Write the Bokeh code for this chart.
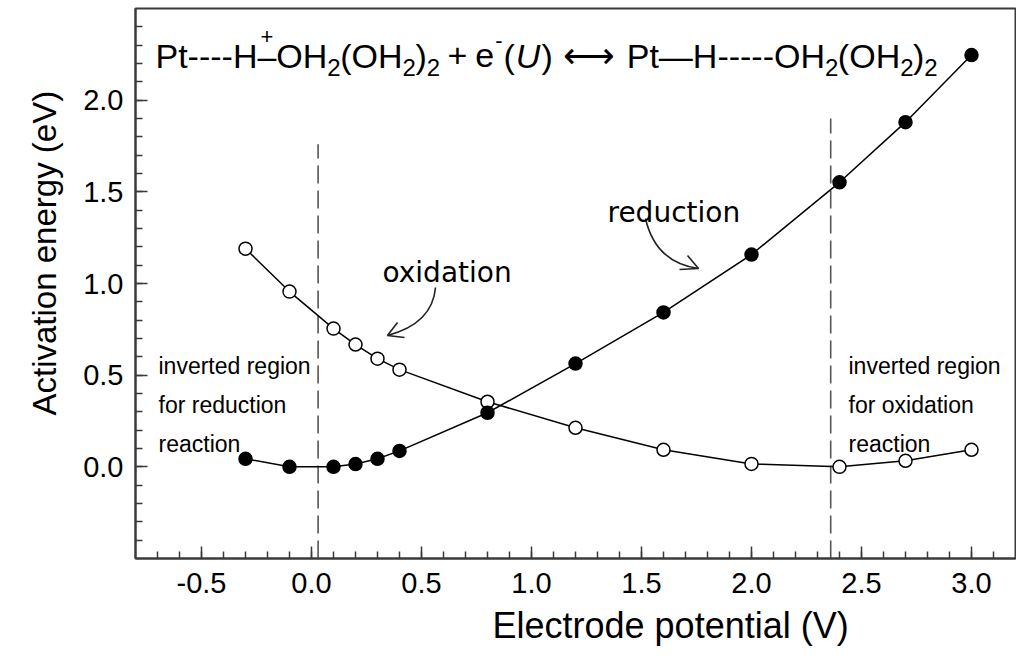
import numpy as np
from bokeh.plotting import figure
from bokeh.models import Range1d, FixedTicker, PrintfTickFormatter, Title
from bokeh.core.properties import value
from bokeh.embed import file_html
from bokeh.resources import INLINE

# ---------------- data ----------------
potential = [-0.3, -0.1, 0.1, 0.2, 0.3, 0.4, 0.8, 1.2, 1.6, 2.0, 2.4, 2.7, 3.0]
energy_reduction = [0.044, 0.0, 0.0, 0.015, 0.044, 0.087, 0.295, 0.563, 0.842, 1.158, 1.552, 1.88, 2.246]
energy_oxidation = [1.19, 0.956, 0.754, 0.667, 0.59, 0.53, 0.355, 0.213, 0.093, 0.016, 0.0, 0.033, 0.093]

inverted_bounds = [0.03, 2.36]          # dashed lines (V)
inverted_tops = [1.76, 1.90]            # top of dashed lines (eV)

x_major_ticks = [-0.5, 0.0, 0.5, 1.0, 1.5, 2.0, 2.5, 3.0]
y_major_ticks = [0.0, 0.5, 1.0, 1.5, 2.0]
x_minor_ticks = [round(v, 1) for v in np.arange(-0.7, 3.15, 0.1)]
y_minor_ticks = [round(v, 1) for v in np.arange(-0.4, 2.45, 0.1)]

x_label = "Electrode potential (V)"
y_label = "Activation energy (eV)"

# ---------------- figure ----------------
W, H = 1016, 659
BL, BR, BT, BB = 135, 1, 8, 101
XMIN, XMAX, YMIN, YMAX = -0.8, 3.2, -0.5, 2.5
SX = (W - BL - BR) / (XMAX - XMIN)
SY = (H - BT - BB) / (YMAX - YMIN)

p = figure(width=W, height=H, x_range=Range1d(XMIN, XMAX), y_range=Range1d(YMIN, YMAX),
           output_backend="svg", toolbar_location=None,
           min_border_left=BL, min_border_right=BR, min_border_top=BT, min_border_bottom=BB)
p.grid.visible = False
p.background_fill_color = "white"
p.border_fill_color = "white"
p.outline_line_color = "#3a3a3a"
p.outline_line_width = 2

AX = "#3a3a3a"
for ax, maj, mino in ((p.xaxis, x_major_ticks, x_minor_ticks), (p.yaxis, y_major_ticks, y_minor_ticks)):
    ax.ticker = FixedTicker(ticks=maj, minor_ticks=mino)
    ax.formatter = PrintfTickFormatter(format="%.1f")
    ax.axis_line_color = AX
    ax.axis_line_width = 2
    ax.major_tick_line_color = AX
    ax.minor_tick_line_color = AX
    ax.major_tick_line_width = 1.5
    ax.minor_tick_line_width = 1.5
    ax.major_tick_in = 12
    ax.major_tick_out = 0
    ax.minor_tick_in = 7
    ax.minor_tick_out = 0
    ax.major_label_text_font = "Liberation Sans"
    ax.major_label_text_color = "black"
p.xaxis.major_label_text_font_size = "29px"
p.yaxis.major_label_text_font_size = "29px"
p.xaxis.major_label_standoff = 14
p.yaxis.major_label_standoff = 12

# axis titles (as side titles so they can be shifted like the reference)
p.add_layout(Title(text=x_label, align="left", offset=357, standoff=14,
                   text_font="Liberation Sans", text_font_size="36px",
                   text_font_style="normal", text_color="black"), "below")
p.add_layout(Title(text=y_label, align="left", offset=143, standoff=36,
                   text_font="Liberation Sans", text_font_size="33px",
                   text_font_style="normal", text_color="black"), "left")

# helpers: page-pixel -> data (for annotation placement)
def dx(px):
    return XMIN + (px - BL) / SX

def dy(py):
    return YMAX - (py - BT) / SY

# ---------------- marks ----------------
p.segment(x0=inverted_bounds, y0=[YMIN, YMIN], x1=inverted_bounds, y1=inverted_tops,
          line_color="#555555", line_width=1.6, line_dash="18 7")

p.line(potential, energy_oxidation, line_color="black", line_width=1.5)
p.line(potential, energy_reduction, line_color="black", line_width=1.5)
p.scatter(potential, energy_oxidation, size=13, marker="circle",
          fill_color="white", line_color="black", line_width=1.5)
p.scatter(potential, energy_reduction, size=13, marker="circle",
          fill_color="black", line_color="black", line_width=1.5)

# ---------------- curved annotation arrows ----------------
p.quadratic(x0=[dx(435), dx(645)], y0=[dy(287), dy(218)],
            x1=[dx(387), dx(698)], y1=[dy(335), dy(268)],
            cx=[dx(432), dx(655)], cy=[dy(323), dy(262)],
            line_color="#222222", line_width=1.6)
p.segment(x0=[dx(387), dx(387), dx(698), dx(698)],
          y0=[dy(335), dy(335), dy(268), dy(268)],
          x1=[dx(397), dx(404), dx(687), dx(679)],
          y1=[dy(322), dy(337), dy(255), dy(269)],
          line_color="#222222", line_width=1.6)

# ---------------- text annotations ----------------
p.text(x=[dx(382)], y=[dy(272)], text=["oxidation"], text_font=value("DejaVu Sans"),
       text_font_size="28px", text_color="black", text_baseline="alphabetic")
p.text(x=[dx(607)], y=[dy(212)], text=["reduction"], text_font=value("DejaVu Sans"),
       text_font_size="28px", text_color="black", text_baseline="alphabetic")

region_lines_left = ["inverted region", "for reduction", "reaction"]
region_lines_right = ["inverted region", "for oxidation", "reaction"]
base = [365, 404, 443]
p.text(x=[dx(158)] * 3, y=[dy(b) for b in base], text=region_lines_left,
       text_font=value("Liberation Sans"), text_font_size="23px", text_color="black",
       text_baseline="alphabetic")
p.text(x=[dx(848)] * 3, y=[dy(b) for b in base], text=region_lines_right,
       text_font=value("Liberation Sans"), text_font_size="23px", text_color="black",
       text_baseline="alphabetic")

# ---------------- reaction equation (inside plot, top) ----------------
S, SUB, SUP = 34, 24, 22
WID = {'P': 667, 't': 278, '-': 333, 'H': 722, '–': 556, 'O': 778, '2': 556, '(': 333,
       ')': 333, ' ': 278, '+': 584, 'e': 556, 'U': 722, '—': 1000}

def tw(s, size):
    return sum(WID[c] for c in s) * size / 1000.0

segments = [("Pt----H", "m"), ("–", "dash"), ("OH", "m"), ("2", "sub"), ("(OH", "m"), ("2", "sub"),
            (")", "m"), ("2", "sub"), ("gap", "gap"), ("+", "m"), ("gap", "gap"), ("e", "m"),
            ("-", "sup"), ("(", "m"), ("U", "it"), (")", "m"),
            ("ARROW", "arrow"), ("Pt—H-----OH", "m"), ("2", "sub"), ("(OH", "m"), ("2", "sub"),
            (")", "m"), ("2", "sub")]

x_start = 155
base_main, base_sub, base_sup, base_plus = 55, 67, 40, 36
groups = {k: ([], [], []) for k in ("m", "sub", "sup", "it", "plus", "arrow")}
cur = float(x_start)
for txt, kind in segments:
    if kind in ("m", "dash"):
        g = groups["m"]
        g[0].append(dx(cur)); g[1].append(dy(base_main)); g[2].append(txt)
        if kind == "dash":
            g2 = groups["plus"]
            g2[0].append(dx(cur + tw(txt, S) / 2)); g2[1].append(dy(base_plus)); g2[2].append("+")
        cur += tw(txt, S)
    elif kind == "gap":
        cur += tw(" ", S) - 1.5
    elif kind == "sub":
        g = groups["sub"]
        g[0].append(dx(cur)); g[1].append(dy(base_sub)); g[2].append(txt)
        cur += tw(txt, SUB) - 0.5
    elif kind == "sup":
        g = groups["sup"]
        g[0].append(dx(cur + 1)); g[1].append(dy(base_sup)); g[2].append(txt)
        cur += tw(txt, SUP) + 2
    elif kind == "it":
        g = groups["it"]
        g[0].append(dx(cur + 1)); g[1].append(dy(base_main)); g[2].append(txt)
        cur += tw(txt, S) + 2
    elif kind == "arrow":
        g = groups["arrow"]
        g[0].append(dx(cur + 36)); g[1].append(dy(base_main)); g[2].append("⟷")
        cur += 74

common = dict(text_color="black", text_baseline="alphabetic")
p.text(x=groups["m"][0], y=groups["m"][1], text=groups["m"][2], text_font=value("Liberation Sans"),
       text_font_size=f"{S}px", **common)
p.text(x=groups["sub"][0], y=groups["sub"][1], text=groups["sub"][2], text_font=value("Liberation Sans"),
       text_font_size=f"{SUB}px", **common)
p.text(x=groups["sup"][0], y=groups["sup"][1], text=groups["sup"][2], text_font=value("Liberation Sans"),
       text_font_size=f"{SUP}px", **common)
p.text(x=groups["plus"][0], y=groups["plus"][1], text=groups["plus"][2], text_font=value("Liberation Sans"),
       text_font_size=f"{SUP}px", text_align="center", **common)
p.text(x=groups["it"][0], y=groups["it"][1], text=groups["it"][2], text_font=value("Liberation Sans"),
       text_font_size=f"{S}px", text_font_style="italic", **common)
p.text(x=groups["arrow"][0], y=groups["arrow"][1], text=groups["arrow"][2], text_font=value("DejaVu Sans"),
       text_font_size="36px", text_align="center", **common)

open("out.html", "w").write(file_html(p, INLINE))
